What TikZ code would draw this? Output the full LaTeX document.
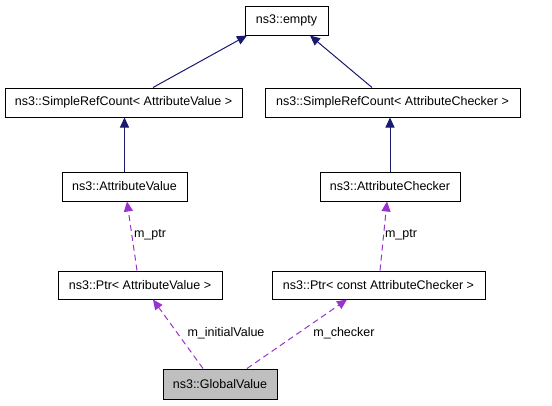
\documentclass[tikz,border=0pt]{standalone}
\usepackage{fontspec}
\setmainfont{Liberation Sans}
\usepackage{xcolor}
\usepackage{tikz}
\usetikzlibrary{arrows.meta}
\definecolor{inhblue}{HTML}{191970}
\definecolor{usepurple}{HTML}{9A32CD}

\begin{document}
\begin{tikzpicture}[x=1pt, y=-1pt,
			cls/.style={draw=black, line width=1pt, fill=white, inner sep=0pt,
				minimum height=29pt, font=\fontsize{12.5}{15}\selectfont},
			inherit/.style={draw=inhblue, line width=1pt,
				-{Triangle[length=10pt, width=9pt]}},
			uses/.style={draw=usepurple, line width=1pt, dash pattern=on 6pt off 4pt,
				-{Triangle[length=10pt, width=9pt]}},
			lbl/.style={font=\fontsize{12.5}{15}\selectfont}]
			
			\useasboundingbox (0,0) rectangle (552,405);
			
			% classes
			\node[cls, minimum width=83pt] (empty) at (286.5,20.5) {ns3::empty};
			\node[cls, minimum width=237pt] (srcval) at (123.5,102.5) {ns3::SimpleRefCount< AttributeValue >};
			\node[cls, minimum width=255pt] (srcchk) at (392.5,102.5) {ns3::SimpleRefCount< AttributeChecker >};
			\node[cls, minimum width=125pt] (attrval) at (124.5,186.5) {ns3::AttributeValue};
			\node[cls, minimum width=140pt] (attrchk) at (390,186.5) {ns3::AttributeChecker};
			\node[cls, minimum width=164pt, minimum height=28pt] (ptrval) at (140,285) {ns3::Ptr< AttributeValue >};
			\node[cls, minimum width=213pt, minimum height=28pt] (ptrchk) at (378.5,285) {ns3::Ptr< const AttributeChecker >};
			\node[cls, minimum width=114pt, minimum height=30pt, fill={rgb,255:red,191;green,191;blue,191}] (global) at (220,384) {ns3::GlobalValue};
			
			% inheritance
			\draw[inherit] ([xshift=29.5pt]srcval.north) -- ([xshift=-39.5pt]empty.south);
			\draw[inherit] ([xshift=-20.5pt]srcchk.north) -- ([xshift=23.5pt]empty.south);
			\draw[inherit] (attrval.north) -- (srcval.south -| attrval.north);
			\draw[inherit] (attrchk.north) -- (srcchk.south -| attrchk.north);
			
			% members
			\draw[uses] ([xshift=-3pt]ptrval.north) -- ([xshift=2.5pt]attrval.south);
			\draw[uses] ([xshift=1.5pt]ptrchk.north) -- ([xshift=-3pt]attrchk.south);
			\draw[uses] ([xshift=-17pt]global.north) -- ([xshift=13pt]ptrval.south);
			\draw[uses] ([xshift=27pt]global.north) -- ([xshift=-31.5pt]ptrchk.south);
			
			\node[lbl] (lptrval) at (150,235) {m\_ptr};
			\node[lbl] (lptrchk) at (401,235) {m\_ptr};
			\node[lbl] (linit) at (226,333) {m\_initialValue};
			\node[lbl] (lchk) at (344,333) {m\_checker};
		\end{tikzpicture}
\end{document}
